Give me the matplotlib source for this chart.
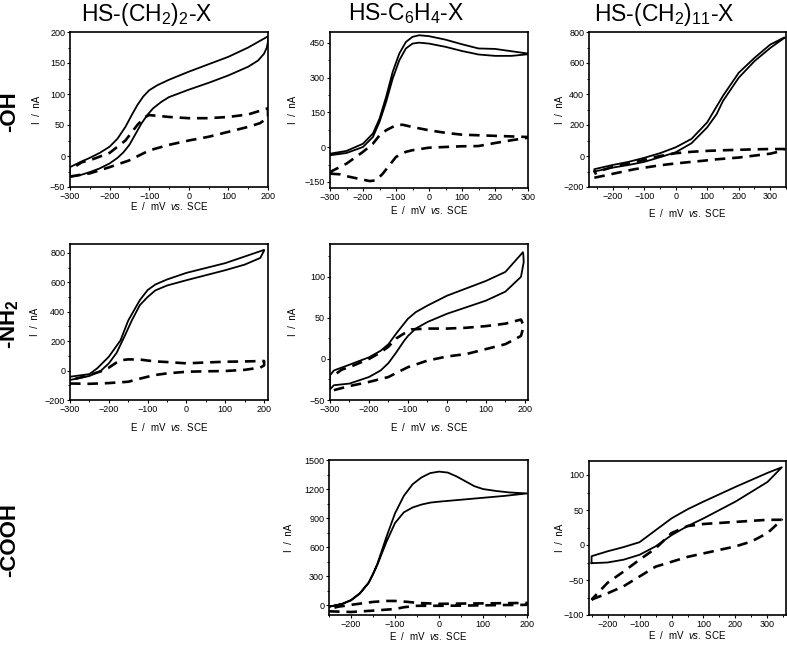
import numpy as np
import matplotlib.pyplot as plt
from matplotlib.ticker import AutoMinorLocator

plt.rcParams['font.family'] = ['Liberation Sans', 'DejaVu Sans']
plt.rcParams['mathtext.fontset'] = 'custom'
plt.rcParams['mathtext.rm'] = 'Liberation Sans'
plt.rcParams['mathtext.it'] = 'Liberation Sans:italic'
plt.rcParams['mathtext.bf'] = 'Liberation Sans:bold'
plt.rcParams['mathtext.default'] = 'regular'

# ---- data: each loop = lower branch (left->right) then upper branch (right->left)
# -OH, HS-(CH2)2-X
oh_c2_solid_e = [-300, -275, -250, -225, -200, -180, -165, -150, -135, -120, -105, -90, -70, -50, 0, 50, 100,
                 150, 175, 190, 197, 200,
                 200, 150, 100, 50, 0, -50, -80, -100, -115, -130, -145, -160, -180, -200, -225, -250, -275,
                 -300, -300]
oh_c2_solid_i = [-34, -31, -26, -20, -12, -3, 6, 18, 35, 52, 66, 77, 87, 95, 107, 118, 130,
                 144, 154, 165, 175, 185,
                 193, 175, 160, 148, 136, 123, 114, 106, 96, 82, 65, 47, 28, 15, 5, -3, -10,
                 -18, -34]
oh_c2_dash_e = [-300, -250, -200, -150, -100, -50, 0, 50, 100, 150, 180, 200,
                200, 150, 100, 50, 0, -50, -100, -110, -130, -160, -200, -250, -270, -300]
oh_c2_dash_i = [-33, -28, -18, -7, 9, 18, 25, 31, 39, 47, 53, 62,
                77, 67, 63, 61, 61, 63, 66, 63, 50, 25, 5, -7, -10, -22]

# -OH, HS-C6H4-X
oh_c6_solid_e = [-300, -250, -200, -170, -150, -130, -110, -90, -70, -50, -30, 0, 50, 100, 150, 200, 250, 300,
                 300, 250, 200, 150, 100, 50, 0, -30, -50, -70, -90, -110, -130, -150, -170, -200, -250, -300, -300]
oh_c6_solid_i = [-35, -25, 1, 44, 109, 195, 296, 375, 426, 447, 451, 447, 433, 415, 400, 394, 394, 401,
                 404, 414, 424, 426, 444, 464, 479, 483, 476, 454, 404, 325, 217, 123, 59, 15, -16, -28, -35]
oh_c6_dash_e = [-300, -270, -250, -200, -180, -160, -140, -120, -100, -70, -50, 0, 50, 100, 150, 200, 250, 300,
                300, 200, 100, 50, 0, -50, -80, -100, -130, -150, -170, -200, -250, -300]
oh_c6_dash_i = [-114, -117, -125, -140, -146, -143, -114, -78, -42, -20, -13, -2, 1, 4, 5, 18, 30, 41,
                44, 49, 54, 62, 73, 87, 97, 95, 73, 51, 15, -20, -71, -107]

# -OH, HS-(CH2)11-X
oh_c11_solid_e = [-258, -200, -150, -100, -50, 0, 50, 100, 130, 150, 200, 250, 300, 345,
                  345, 300, 250, 200, 150, 130, 100, 50, 0, -50, -100, -150, -200, -258, -258]
oh_c11_solid_i = [-100, -75, -58, -38, -8, 24, 82, 185, 270, 355, 505, 612, 697, 762,
                  765, 719, 633, 537, 388, 320, 217, 110, 56, 18, -12, -38, -58, -85, -100]
oh_c11_dash_e = [-258, -246, -200, -130, -50, 0, 100, 132, 200, 240, 300, 335, 345,
                 345, 300, 250, 200, 150, 100, 50, 0, -50, -100, -150, -200, -230, -258]
oh_c11_dash_i = [-140, -135, -115, -85, -60, -48, -28, -21, -10, 0, 15, 32, 45,
                 45, 45, 43, 40, 37, 33, 27, 18, 0, -25, -50, -70, -90, -115]

# -NH2, HS-(CH2)2-X
nh_c2_solid_e = [-300, -250, -220, -200, -180, -160, -140, -120, -100, -80, -50, 0, 50, 100, 150, 190, 200,
                 200, 150, 100, 50, 0, -50, -80, -100, -120, -130, -150, -170, -200, -230, -250, -300, -300]
nh_c2_solid_i = [-64, -37, 0, 49, 120, 230, 345, 445, 500, 545, 578, 614, 648, 682, 720, 765, 815,
                 820, 775, 730, 697, 664, 619, 585, 547, 479, 433, 340, 205, 94, 15, -24, -42, -64]
nh_c2_dash_e = [-300, -250, -200, -150, -120, -100, -80, -50, 0, 50, 100, 150, 190, 200,
                200, 150, 100, 50, 0, -50, -80, -100, -120, -150, -170, -180, -200, -220, -250, -270, -300]
nh_c2_dash_i = [-88, -90, -85, -76, -55, -42, -30, -19, -8, -5, -3, 5, 20, 35,
                65, 62, 60, 55, 49, 58, 62, 68, 75, 76, 70, 55, 20, -5, -30, -45, -65]

# -NH2, HS-C6H4-X
nh_c6_solid_e = [-300, -290, -250, -200, -170, -150, -130, -110, -100, -80, -50, 0, 50, 100, 150, 190, 197, 196,
                 195, 150, 100, 50, 0, -50, -80, -100, -110, -130, -150, -170, -200, -250, -290, -300, -300]
nh_c6_solid_i = [-37, -32, -30, -22, -14, -5, 8, 22, 28, 37, 45, 55, 63, 71, 82, 100, 118, 127,
                 130, 106, 95, 86, 77, 65, 57, 49, 43, 31, 18, 10, 2, -7, -14, -20, -37]
nh_c6_dash_e = [-290, -250, -200, -150, -130, -100, -50, 0, 50, 100, 150, 190, 197,
                190, 150, 100, 50, 0, -50, -90, -110, -130, -150, -170, -200, -250, -270, -290]
nh_c6_dash_i = [-38, -33, -28, -22, -17, -10, -2, 3, 6, 12, 18, 28, 40,
                48, 43, 40, 38, 37, 37, 36, 31, 25, 15, 8, 0, -10, -13, -20]

# -COOH, HS-C6H4-X
co_c6_solid_e = [-250, -220, -200, -180, -160, -150, -140, -120, -100, -80, -60, -40, -20, 0, 50, 100, 150, 200,
                 200, 160, 130, 100, 80, 60, 40, 20, 0, -20, -40, -60, -80, -100, -120, -140, -150, -160, -180,
                 -200, -220, -250]
co_c6_solid_i = [-15, 15, 50, 120, 230, 320, 420, 650, 850, 960, 1010, 1040, 1060, 1070, 1090, 1110, 1130, 1155,
                 1155, 1165, 1180, 1200, 1230, 1280, 1330, 1370, 1380, 1365, 1320, 1250, 1130, 950, 700, 430, 325,
                 235, 125, 55, 15, -15]
co_c6_dash_e = [-250, -200, -150, -100, -80, -50, 0, 50, 100, 150, 200,
                200, 150, 100, 50, 0, -50, -70, -100, -120, -150, -200, -230, -250]
co_c6_dash_i = [-62, -69, -55, -38, -20, -5, -5, -3, 0, 3, 5,
                25, 22, 20, 18, 15, 25, 35, 45, 45, 35, 5, -15, -40]

# -COOH, HS-(CH2)11-X
co_c11_solid_e = [-250, -200, -150, -100, -50, 0, 50, 100, 200, 300, 345,
                  345, 300, 200, 100, 50, 0, -50, -100, -150, -200, -250, -250]
co_c11_solid_i = [-26, -25, -21, -14, -2, 14, 27, 38, 62, 90, 111,
                  111, 103, 83, 62, 51, 38, 21, 4, -3, -9, -16, -26]
co_c11_dash_e = [-250, -200, -150, -100, -50, 0, 50, 100, 200, 250, 300, 345,
                 345, 300, 200, 100, 50, 0, -50, -100, -150, -200, -250]
co_c11_dash_i = [-78, -69, -59, -45, -31, -24, -17, -12, -2, 5, 17, 36,
                 36, 36, 33, 30, 27, 17, -5, -21, -38, -54, -78]

col_titles = ['HS-(CH$_2$)$_2$-X', 'HS-C$_6$H$_4$-X', 'HS-(CH$_2$)$_{11}$-X']
row_titles = ['-OH', '-NH$_\\mathbf{2}$', '-COOH']

W, H = 787, 647
fig = plt.figure(figsize=(W / 100, H / 100), dpi=100)


def panel(box, xlim, ylim, xticks, yticks, se, si, de, di, ylab_x, xlab_px):
    l, t, r, b = box
    ax = fig.add_axes([l / W, (H - b) / H, (r - l) / W, (b - t) / H])
    ax.plot(se, si, color='black', lw=1.3)
    ax.plot(de, di, color='black', lw=1.9, dashes=(4, 2.6), dash_capstyle='butt')
    ax.set_xlim(xlim)
    ax.set_ylim(ylim)
    ax.set_xticks(xticks)
    ax.set_yticks(yticks)
    ax.xaxis.set_minor_locator(AutoMinorLocator(2))
    ax.yaxis.set_minor_locator(AutoMinorLocator(2))
    ax.tick_params(which='major', direction='out', length=2.5, width=0.8, labelsize=6.5, pad=1)
    ax.tick_params(which='minor', direction='out', length=1.6, width=0.7)
    for s in ax.spines.values():
        s.set_linewidth(1.2)
    ax.set_ylabel('I  /  nA', fontsize=7)
    ax.set_xlabel('E  /  mV  $\\it{vs.}$ SCE', fontsize=7)
    ax.yaxis.label.set_va('center')
    ax.xaxis.label.set_va('center')
    ax.yaxis.set_label_coords(ylab_x, 0.5)
    ax.xaxis.set_label_coords(0.5, -(xlab_px - b) / (b - t))
    return ax


panel((70, 32, 268, 187), (-300, 200), (-50, 200), range(-300, 201, 100), range(-50, 201, 50),
      oh_c2_solid_e, oh_c2_solid_i, oh_c2_dash_e, oh_c2_dash_i, -0.167, 206)
panel((330, 32, 528, 188), (-300, 300), (-176, 497), range(-300, 301, 100), range(-150, 451, 150),
      oh_c6_solid_e, oh_c6_solid_i, oh_c6_dash_e, oh_c6_dash_i, -0.187, 210)
panel((589, 32, 786, 187), (-275, 350), (-200, 800), range(-200, 301, 100), range(-200, 801, 200),
      oh_c11_solid_e, oh_c11_solid_i, oh_c11_dash_e, oh_c11_dash_i, -0.147, 213)
panel((70, 244, 268, 400), (-300, 210), (-200, 860), range(-300, 201, 100), range(-200, 801, 200),
      nh_c2_solid_e, nh_c2_solid_i, nh_c2_dash_e, nh_c2_dash_i, -0.177, 427)
panel((330, 244, 528, 400), (-300, 208), (-50, 140), range(-300, 201, 100), range(-50, 101, 50),
      nh_c6_solid_e, nh_c6_solid_i, nh_c6_dash_e, nh_c6_dash_i, -0.187, 427)
panel((329, 460, 528, 615), (-250, 202), (-100, 1500), range(-200, 201, 100), range(0, 1501, 300),
      co_c6_solid_e, co_c6_solid_i, co_c6_dash_e, co_c6_dash_i, -0.2, 636)
panel((589, 461, 786, 615), (-258, 358), (-100, 120), range(-200, 301, 100), range(-100, 101, 50),
      co_c11_solid_e, co_c11_solid_i, co_c11_dash_e, co_c11_dash_i, -0.147, 635)

for x, txt in zip([147, 406, 664], col_titles):
    fig.text(x / W, 1 - 14 / H, txt, ha='center', va='center', fontsize=16.5)
for y, txt in zip([112, 324, 540], row_titles):
    fig.text(10 / W, 1 - y / H, txt, ha='center', va='center', rotation=90,
             fontsize=16, fontweight='bold')

fig.savefig('out.png', dpi=100)
